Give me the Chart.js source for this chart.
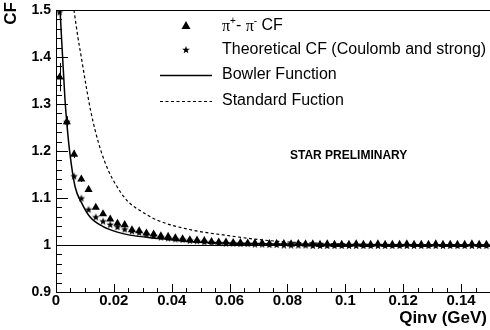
<!DOCTYPE html>
<html>
<head>
<meta charset="utf-8">
<script src="https://cdn.jsdelivr.net/npm/chart.js@4.4.0/dist/chart.umd.min.js"></script>
<style>
  html, body { margin: 0; padding: 0; background: #fff; }
  #wrap { width: 490px; height: 330px; }
</style>
</head>
<body>
<div id="wrap"><canvas id="cf" width="490" height="330"></canvas></div>
<script>
// bin centres (GeV)
const qinv = [
  0.00125, 0.00375, 0.00625, 0.00875, 0.01125, 0.01375, 0.01625, 0.01875, 0.02125, 0.02375,
  0.02625, 0.02875, 0.03125, 0.03375, 0.03625, 0.03875, 0.04125, 0.04375, 0.04625, 0.04875,
  0.05125, 0.05375, 0.05625, 0.05875, 0.06125, 0.06375, 0.06625, 0.06875, 0.07125, 0.07375,
  0.07625, 0.07875, 0.08125, 0.08375, 0.08625, 0.08875, 0.09125, 0.09375, 0.09625, 0.09875,
  0.10125, 0.10375, 0.10625, 0.10875, 0.11125, 0.11375, 0.11625, 0.11875, 0.12125, 0.12375,
  0.12625, 0.12875, 0.13125, 0.13375, 0.13625, 0.13875, 0.14125, 0.14375, 0.14625, 0.14875
];
// measured pi+ pi- CF (triangles)
const cfData = [
  1.357, 1.262, 1.193, 1.140, 1.118, 1.080, 1.066, 1.055, 1.046, 1.043,
  1.032, 1.030, 1.025, 1.023, 1.019, 1.018, 1.015, 1.013, 1.011, 1.010,
  1.009, 1.007, 1.006, 1.006, 1.005, 1.005, 1.004, 1.004, 1.004, 1.003,
  1.003, 1.003, 1.002, 1.003, 1.002, 1.002, 1.001, 1.002, 1.001, 1.001,
  1.001, 1.002, 1.001, 1.001, 1.002, 1.001, 1.001, 1.001, 1.002, 1.001,
  1.001, 1.001, 1.002, 1.001, 1.001, 1.001, 1.001, 1.002, 1.001, 1.001
];
const cfDataErr = [
  0.030, 0.012, 0.008, 0.006, 0.005, 0.004, 0.004, 0.003, 0.003, 0.003,
  0.003, 0.002, 0.002, 0.002, 0.002, 0.002, 0.002, 0.002, 0.002, 0.002,
  0.002, 0.002, 0.002, 0.002, 0.002, 0.002, 0.002, 0.002, 0.002, 0.002,
  0.002, 0.002, 0.002, 0.002, 0.002, 0.002, 0.002, 0.002, 0.002, 0.002,
  0.002, 0.002, 0.002, 0.002, 0.002, 0.002, 0.002, 0.002, 0.002, 0.002,
  0.002, 0.002, 0.002, 0.002, 0.002, 0.002, 0.002, 0.002, 0.002, 0.002
];
// theoretical CF, Coulomb + strong (stars)
const cfTheory = [
  1.495, 1.262, 1.146, 1.099, 1.075, 1.059, 1.050, 1.043, 1.038, 1.033,
  1.029, 1.026, 1.022, 1.019, 1.016, 1.014, 1.012, 1.011, 1.009, 1.008,
  1.006, 1.005, 1.004, 1.003, 1.003, 1.002, 1.002, 1.001, 1.001, 1.000,
  1.000, 0.999, 0.999, 0.999, 0.999, 0.998, 0.998, 0.998, 0.998, 0.998,
  0.998, 0.998, 0.998, 0.998, 0.998, 0.998, 0.998, 0.998, 0.998, 0.998,
  0.998, 0.998, 0.998, 0.998, 0.998, 0.998, 0.998, 0.998, 0.998, 0.998
];
// Bowler function curve
const bowlerQ  = [0.0014, 0.0031, 0.0038, 0.0048, 0.0066, 0.0089, 0.0117, 0.0163, 0.0209, 0.0255, 0.0353, 0.0468, 0.0583, 0.080, 0.100, 0.150];
const bowlerCF = [1.500,  1.310,  1.255,  1.195,  1.124,  1.089,  1.060,  1.039,  1.028,  1.021,  1.014,  1.007,  1.004,  1.002, 1.001, 1.000];
// Standard function curve
const standardQ  = [0.0062, 0.0075, 0.0090, 0.0105, 0.0120, 0.0137, 0.0157, 0.0180, 0.0205, 0.0245, 0.0307, 0.0353, 0.0468, 0.0583, 0.068, 0.0784, 0.090, 0.110, 0.150];
const standardCF = [1.500,  1.445,  1.390,  1.335,  1.285,  1.240,  1.197,  1.160,  1.130,  1.095,  1.067,  1.052,  1.032,  1.021,  1.013, 1.007,  1.004, 1.001, 1.000];

const unityLevel = 1;
const xTicks = [0, 0.02, 0.04, 0.06, 0.08, 0.1, 0.12, 0.14];
const yTicks = [0.9, 1, 1.1, 1.2, 1.3, 1.4, 1.5];

const FONT = '"Liberation Sans", Arial, sans-serif';
const fmt = v => String(Number(v.toFixed(2)));

// filled five-point star marker
function makeStar(r) {
    const c = document.createElement('canvas');
    const s = Math.ceil(r * 2) + 2;
    c.width = s; c.height = s;
    const g = c.getContext('2d');
    g.translate(s / 2, s / 2);
    g.beginPath();
    for (let i = 0; i < 10; i++) {
        const rad = i % 2 === 0 ? r : r * 0.42;
        const a = -Math.PI / 2 + i * Math.PI / 5;
        g.lineTo(rad * Math.cos(a), rad * Math.sin(a));
    }
    g.closePath();
    g.fillStyle = '#000';
    g.fill();
    return c;
}
const starImg = makeStar(4);

const pts = (xs, ys) => xs.map((x, i) => ({ x: x, y: ys[i] }));

// no extra label padding around the plot frame
function fixBox(s, w, h) {
    if (w) s.width = w;
    if (h) s.height = h;
    s.paddingLeft = 0; s.paddingRight = 0; s.paddingTop = 0; s.paddingBottom = 0;
}

// ROOT-style frame with ticks drawn inwards
const framePlugin = {
    id: 'frame',
    beforeDatasetsDraw(chart) {
        // reference line at CF = 1, pixel-snapped so it stays crisp
        const { ctx, chartArea: a, scales: { y } } = chart;
        const py = Math.round(y.getPixelForValue(unityLevel)) + 0.5;
        ctx.save();
        ctx.strokeStyle = '#000';
        ctx.lineWidth = 1;
        ctx.beginPath();
        ctx.moveTo(a.left, py);
        ctx.lineTo(a.right, py);
        ctx.stroke();
        ctx.restore();
    },
    afterDatasetsDraw(chart) {
        const { ctx, chartArea: a, scales: { x, y } } = chart;
        ctx.save();
        ctx.strokeStyle = '#000';
        ctx.lineWidth = 1;
        ctx.beginPath();
        ctx.moveTo(a.left + 0.5, a.top + 0.5);
        ctx.lineTo(a.right, a.top + 0.5);
        ctx.moveTo(a.left + 0.5, a.top);
        ctx.lineTo(a.left + 0.5, a.bottom + 0.5);
        ctx.lineTo(a.right, a.bottom + 0.5);
        // y ticks: minor every 0.02, major every 0.1
        for (let i = 0; i <= 30; i++) {
            const v = 0.9 + i * 0.02;
            const py = Math.round(y.getPixelForValue(v)) + 0.5;
            const len = i % 5 === 0 ? 12 : 6;
            ctx.moveTo(a.left, py);
            ctx.lineTo(a.left + len, py);
        }
        // x ticks: minor every 0.005, major every 0.02
        for (let i = 0; i <= 30; i++) {
            const v = i * 0.005;
            const px = Math.round(x.getPixelForValue(v)) + 0.5;
            const len = i % 4 === 0 ? 8 : 4;
            ctx.moveTo(px, a.bottom);
            ctx.lineTo(px, a.bottom - len);
        }
        ctx.stroke();

        // error bars on the measured points
        ctx.beginPath();
        cfData.forEach((v, i) => {
            const px = Math.round(x.getPixelForValue(qinv[i])) + 0.5;
            ctx.moveTo(px, y.getPixelForValue(v - cfDataErr[i]));
            ctx.lineTo(px, y.getPixelForValue(v + cfDataErr[i]));
        });
        ctx.stroke();

        // y tick labels, right aligned just left of the axis
        ctx.fillStyle = '#000';
        ctx.font = 'bold 14px ' + FONT;
        ctx.textAlign = 'right';
        ctx.textBaseline = 'middle';
        yTicks.forEach(v => ctx.fillText(fmt(v), a.left - 5, y.getPixelForValue(v)));
        ctx.restore();
    },
    afterDraw(chart) {
        const ctx = chart.ctx;
        ctx.save();
        ctx.fillStyle = '#000';
        ctx.strokeStyle = '#000';

        // axis titles
        ctx.font = 'bold 17px ' + FONT;
        ctx.textAlign = 'right';
        ctx.textBaseline = 'middle';
        ctx.fillText('Qinv (GeV)', 487, 318);
        ctx.save();
        ctx.translate(11, 2);
        ctx.rotate(-Math.PI / 2);
        ctx.textAlign = 'right';
        ctx.fillText('CF', 0, 0);
        ctx.restore();

        // legend
        const tx = 222;
        const txtFont = '16px ' + FONT;
        ctx.font = txtFont;
        ctx.textAlign = 'left';
        ctx.textBaseline = 'middle';
        // triangle marker
        ctx.beginPath();
        ctx.moveTo(186, 21);
        ctx.lineTo(190.5, 29);
        ctx.lineTo(181.5, 29);
        ctx.closePath();
        ctx.fill();
        // pi+ - pi- CF
        let cx = tx;
        const piFont = '16px "Liberation Serif", serif';
        const supFont = '10px ' + FONT;
        ctx.font = piFont; ctx.fillText('\u03c0', cx, 27); cx += ctx.measureText('\u03c0').width;
        ctx.font = supFont; ctx.fillText('+', cx, 21); cx += ctx.measureText('+').width;
        ctx.font = txtFont; ctx.fillText('- ', cx, 26); cx += ctx.measureText('- ').width;
        ctx.font = piFont; ctx.fillText('\u03c0', cx, 27); cx += ctx.measureText('\u03c0').width;
        ctx.font = supFont; ctx.fillText('-', cx, 21); cx += ctx.measureText('-').width;
        ctx.font = txtFont; ctx.fillText(' CF', cx, 26);
        // star marker
        ctx.drawImage(starImg, 186 - starImg.width / 2, 50 - starImg.height / 2);
        ctx.fillText('Theoretical CF (Coulomb and strong)', tx, 50);
        // line samples
        ctx.lineWidth = 1.5;
        ctx.beginPath();
        ctx.moveTo(160, 75.5); ctx.lineTo(212, 75.5);
        ctx.stroke();
        ctx.fillText('Bowler Function', tx, 75);
        ctx.lineWidth = 1.2;
        ctx.setLineDash([3, 2.5]);
        ctx.beginPath();
        ctx.moveTo(160, 101.5); ctx.lineTo(212, 101.5);
        ctx.stroke();
        ctx.setLineDash([]);
        ctx.fillText('Standard Fuction', tx, 101);

        ctx.font = 'bold 12px ' + FONT;
        ctx.fillText('STAR PRELIMINARY', 290, 156);
        ctx.restore();
    }
};

new Chart(document.getElementById('cf'), {
    type: 'scatter',
    data: {
        datasets: [
            {
                label: 'pi+ pi- CF',
                data: pts(qinv, cfData),
                pointStyle: 'triangle',
                pointRadius: 4.7,
                backgroundColor: '#000',
                borderWidth: 0,
                order: 1
            },
            {
                label: 'Theoretical CF',
                data: pts(qinv, cfTheory),
                pointStyle: starImg,
                backgroundColor: '#000',
                order: 2
            },
            {
                label: 'Bowler Function',
                type: 'line',
                data: pts(bowlerQ, bowlerCF),
                borderColor: '#000',
                borderWidth: 1.5,
                pointRadius: 0,
                cubicInterpolationMode: 'monotone',
                fill: false,
                order: 3
            },
            {
                label: 'Standard Fuction',
                type: 'line',
                data: pts(standardQ, standardCF),
                borderColor: '#000',
                borderWidth: 1.2,
                borderDash: [3, 2.5],
                pointRadius: 0,
                cubicInterpolationMode: 'monotone',
                fill: false,
                order: 4
            }
        ]
    },
    options: {
        responsive: false,
        animation: false,
        events: [],
        layout: { autoPadding: false, padding: { top: 10, right: 0, left: 0, bottom: 0 } },
        plugins: {
            legend: { display: false },
            tooltip: { enabled: false }
        },
        scales: {
            x: {
                type: 'linear',
                min: 0,
                max: 0.15,
                grid: { display: false, drawTicks: false, tickLength: 0 },
                border: { display: false },
                afterBuildTicks: s => { s.ticks = xTicks.map(v => ({ value: v })); },
                afterFit: s => fixBox(s, 0, 38),
                ticks: {
                    color: '#000',
                    font: { family: FONT, size: 15, weight: 'bold' },
                    padding: 0,
                    maxRotation: 0,
                    autoSkip: false,
                    callback: v => fmt(v)
                }
            },
            y: {
                min: 0.9,
                max: 1.5,
                grid: { display: false, drawTicks: false, tickLength: 0 },
                border: { display: false },
                afterBuildTicks: s => { s.ticks = yTicks.map(v => ({ value: v })); },
                afterFit: s => fixBox(s, 56, 0),
                ticks: { display: false }
            }
        }
    },
    plugins: [framePlugin]
});
</script>
</body>
</html>
